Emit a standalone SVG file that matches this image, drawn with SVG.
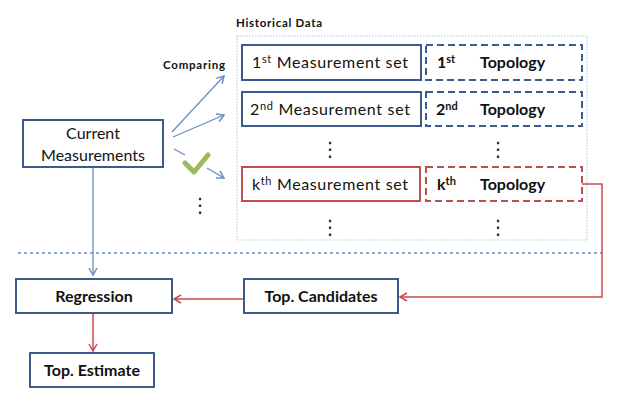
<svg xmlns="http://www.w3.org/2000/svg" width="622" height="400" viewBox="0 0 622 400">
<defs>
<style>
.box{fill:#fff;stroke:#3b5b8c;stroke-width:2}
.rbox{fill:#fff;stroke:#c0504d;stroke-width:2}
.dbox{fill:#fff;stroke:#3b5b8c;stroke-width:2;stroke-dasharray:7 4}
.rdbox{fill:#fff;stroke:#c0504d;stroke-width:2;stroke-dasharray:7 4}
.t{font-family:Lato,"Open Sans",sans-serif;font-size:16px;fill:#111}
.b{font-weight:bold}
.s{font-size:11px}
.bl{stroke:#6a8cc6;stroke-width:1.3;fill:none}
.rl{stroke:#c84b4b;stroke-width:1.5;fill:none}
.dot{font-family:"DejaVu Sans",sans-serif;font-size:20px;fill:#222}
</style>
<marker id="ab" markerWidth="10" markerHeight="10" refX="8" refY="5" orient="auto" markerUnits="userSpaceOnUse">
<polyline points="1,1 8,5 1,9" fill="none" stroke="#6a8cc6" stroke-width="1.5"/>
</marker>
<marker id="ar" markerWidth="10" markerHeight="10" refX="8" refY="5" orient="auto" markerUnits="userSpaceOnUse">
<polyline points="1,1 8,5 1,9" fill="none" stroke="#c84b4b" stroke-width="1.5"/>
</marker>
</defs>
<rect width="622" height="400" fill="#fff"/>

<g id="historical">
<text class="t b" x="236" y="27" style="font-size:11.5px" textLength="86">Historical Data</text>
<rect x="237" y="36" width="350" height="204" fill="none" stroke="#b4c3da" stroke-width="1" stroke-dasharray="1.5 1.5"/>
</g>

<g id="separator">
<line x1="18" y1="253" x2="602" y2="253" stroke="#8ea7c8" stroke-width="2" stroke-dasharray="3 3"/>
</g>

<g id="connectors">
<line class="bl" x1="172" y1="132" x2="224" y2="76" marker-end="url(#ab)"/>
<line class="bl" x1="173" y1="137" x2="224" y2="115" marker-end="url(#ab)"/>
<line class="bl" x1="174" y1="149" x2="185" y2="155"/>
<line class="bl" x1="207" y1="168" x2="224" y2="178" marker-end="url(#ab)"/>
<line class="bl" x1="93" y1="167" x2="93" y2="275" marker-end="url(#ab)"/>
<polyline class="rl" points="582,184 602,184 602,297 400,297" marker-end="url(#ar)"/>
<line class="rl" x1="243" y1="299" x2="174" y2="299" marker-end="url(#ar)"/>
<line class="rl" x1="93" y1="313" x2="93" y2="351" marker-end="url(#ar)"/>
</g>

<g id="comparing">
<text class="t b" x="163" y="69" style="font-size:11.5px" textLength="62">Comparing</text>
</g>

<g id="check">
<polyline points="185,163 194,172 208,155" fill="none" stroke="#9bbb59" stroke-width="5" stroke-linecap="round" stroke-linejoin="round"/>
</g>

<g id="current">
<rect class="box" x="23" y="120" width="140" height="47"/>
<text class="t" x="93" y="139" text-anchor="middle">Current</text>
<text class="t" x="93" y="161" text-anchor="middle">Measurements</text>
</g>

<g id="m1">
<rect class="box" x="242" y="45" width="179" height="35"/>
<text class="t" x="252" y="68" textLength="156">1<tspan class="s" dy="-5">st</tspan><tspan dy="5"> Measurement set</tspan></text>
</g>
<g id="t1">
<rect class="dbox" x="426" y="45" width="156" height="35"/>
<text class="t b" x="437" y="68">1<tspan class="s" dy="-5">st</tspan></text>
<text class="t b" x="480" y="68">Topology</text>
</g>

<g id="m2">
<rect class="box" x="242" y="92" width="179" height="34"/>
<text class="t" x="250" y="115" textLength="160">2<tspan class="s" dy="-5">nd</tspan><tspan dy="5"> Measurement set</tspan></text>
</g>
<g id="t2">
<rect class="dbox" x="426" y="92" width="156" height="34"/>
<text class="t b" x="436" y="115">2<tspan class="s" dy="-5">nd</tspan></text>
<text class="t b" x="480" y="115">Topology</text>
</g>

<g id="mk">
<rect class="rbox" x="242" y="167" width="178" height="34"/>
<text class="t" x="252" y="190" textLength="156">k<tspan class="s" dy="-5">th</tspan><tspan dy="5"> Measurement set</tspan></text>
</g>
<g id="tk">
<rect class="rdbox" x="426" y="167" width="156" height="34"/>
<text class="t b" x="437" y="190">k<tspan class="s" dy="-5">th</tspan></text>
<text class="t b" x="480" y="190">Topology</text>
</g>

<g id="dots">
<text class="dot" x="330" y="156" text-anchor="middle">⋮</text>
<text class="dot" x="498" y="156" text-anchor="middle">⋮</text>
<text class="dot" x="330" y="234" text-anchor="middle">⋮</text>
<text class="dot" x="498" y="234" text-anchor="middle">⋮</text>
<text class="dot" x="200" y="212" text-anchor="middle">⋮</text>
</g>

<g id="regression">
<rect class="box" x="16" y="279" width="156" height="34"/>
<text class="t b" x="94" y="302" text-anchor="middle">Regression</text>
</g>

<g id="candidates">
<rect class="box" x="244" y="279" width="154" height="34"/>
<text class="t b" x="321" y="302" text-anchor="middle">Top. Candidates</text>
</g>

<g id="estimate">
<rect class="box" x="30" y="353" width="124" height="34"/>
<text class="t b" x="92" y="376" text-anchor="middle">Top. Estimate</text>
</g>
</svg>
